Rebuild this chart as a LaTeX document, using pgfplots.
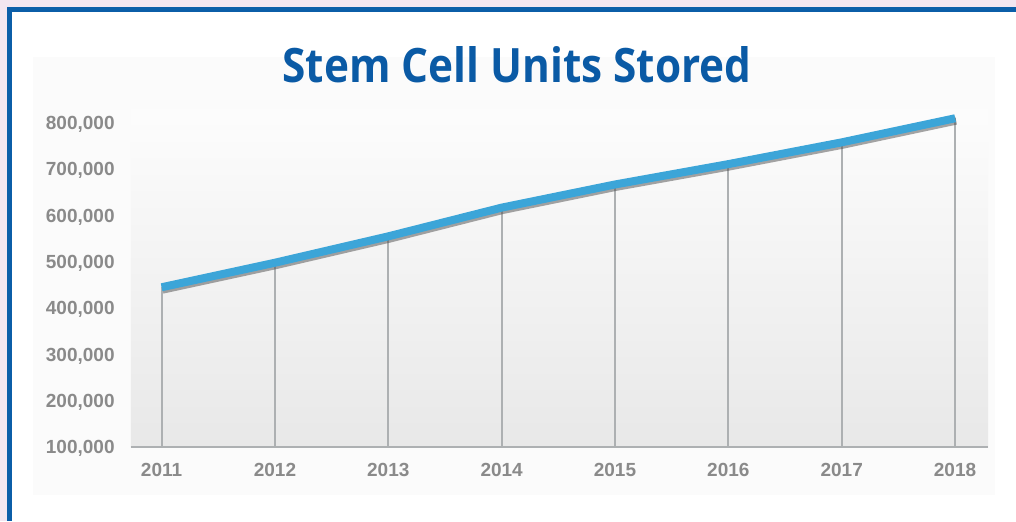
\documentclass[border=0pt]{standalone}
\usepackage{pgfplots}
\pgfplotsset{compat=1.18}
\usepackage{fontspec}
\setmainfont{Liberation Sans}
\newfontfamily\titlefont{Open Sans}
\usetikzlibrary{shadings}
\definecolor{pinkbg}{HTML}{F2E6F0}
\definecolor{frameblue}{HTML}{0B5EA8}
\definecolor{titleblue}{HTML}{0A5AA5}
\definecolor{lineblue}{HTML}{3CA5D8}
\definecolor{ticklab}{HTML}{8A8A8A}
\definecolor{vline}{HTML}{ADB0B2}
\pgfplotstableread{
year value
2011 445000
2012 498000
2013 555000
2014 617000
2015 667000
2016 711000
2017 758000
2018 810000
}\datatable
\begin{document}
\begin{tikzpicture}[x=1pt,y=1pt]
% page and frame (1px = 0.5pt)
\fill[pinkbg] (0,0) rectangle (508,260.5);
\fill[white] (3.5,0) rectangle (508,257);
\fill[frameblue] (3.5,254.5) rectangle (508,257);
\fill[frameblue] (3.5,0) rectangle (6,257);
\fill[black!1.5] (16.5,13) rectangle (497.5,232);
% title
\node[anchor=base, text=titleblue, inner sep=0pt] at (258.5,219.5)
  {\resizebox{234.5pt}{18pt}{\titlefont\bfseries Stem Cell Units Stored}};
\begin{axis}[
  at={(65.5pt,37pt)}, anchor=south west,
  scale only axis, width=428.5pt, height=169pt,
  xmin=2010.73, xmax=2018.29,
  ymin=100000, ymax=830000,
  axis line style={draw=none},
  tick style={draw=none},
  xtick={2011,...,2018},
  xticklabels={2011,2012,2013,2014,2015,2016,2017,2018},
  ytick={100000,200000,300000,400000,500000,600000,700000,800000},
  yticklabels={{100,000},{200,000},{300,000},{400,000},{500,000},{600,000},{700,000},{800,000}},
  scaled y ticks=false,
  /pgf/number format/assume math mode=true,
  ticklabel style={font=\fontsize{9.5}{11}\selectfont\bfseries, text=ticklab, inner sep=0pt},
  yticklabel style={anchor=east, xshift=-8pt, yshift=-0.8pt},
  xticklabel style={anchor=north, yshift=-8pt},
  axis background/.style={shade, top color=black!1, bottom color=black!9},
  clip=true,
]
\addplot[ycomb, draw=vline, line width=1pt] table[x=year,y=value] {\datatable};
\draw[vline, line width=1.1pt] (rel axis cs:0,0) -- (rel axis cs:1,0);
\addplot[draw=black!70, opacity=0.5, line width=4pt, yshift=-1.2pt, xshift=0.5pt] table[x=year,y=value] {\datatable};
\addplot[draw=lineblue, line width=4pt] table[x=year,y=value] {\datatable};
\end{axis}
\end{tikzpicture}
\end{document}
